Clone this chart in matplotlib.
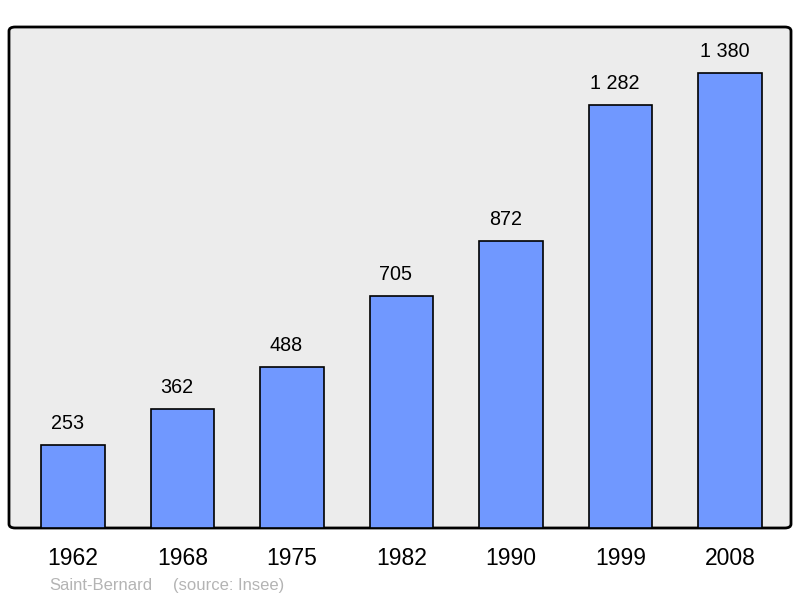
import matplotlib
matplotlib.use("Agg")
import matplotlib.pyplot as plt
from matplotlib.patches import FancyBboxPatch

years = ["1962", "1968", "1975", "1982", "1990", "1999", "2008"]
population = [253, 362, 488, 705, 872, 1282, 1380]
labels = ["253", "362", "488", "705", "872", "1 282", "1 380"]

plt.rcParams['font.family'] = ['Liberation Sans', 'DejaVu Sans']

fig = plt.figure(figsize=(8, 5.98), dpi=100)
ax = fig.add_axes([9/800, 70/598, 782/800, 501/598])
ax.set_facecolor('none')

bg = FancyBboxPatch((0, 0), 1, 1, boxstyle="round,pad=0,rounding_size=0.008",
                    transform=ax.transAxes, facecolor='#ececec', edgecolor='black',
                    linewidth=2, clip_on=False, zorder=0)
ax.add_patch(bg)

x = list(range(len(years)))
bars = ax.bar(x, population, width=0.584, color='#7098ff', edgecolor='black',
              linewidth=1.2, zorder=2)
for xi, v, lab in zip(x, population, labels):
    ax.annotate(lab, (xi, v), xytext=(-4, 11.5), textcoords='offset points',
                ha='center', va='baseline', fontsize=14.2, zorder=3)

ax.set_xlim(-0.5845, 6.557)
ax.set_ylim(0, 1520)
ax.set_xticks(x)
ax.set_xticklabels(years, fontsize=16.5)
ax.set_yticks([])
ax.tick_params(axis='x', length=0, pad=13.8)
for s in ax.spines.values():
    s.set_visible(False)

fig.text(49/800, 1 - 590/598, "Saint-Bernard", fontsize=12, color='#b4b4b4',
         ha='left', va='baseline')
fig.text(173/800, 1 - 590/598, "(source: Insee)", fontsize=12, color='#b4b4b4',
         ha='left', va='baseline')

fig.savefig("out.png", dpi=100)
